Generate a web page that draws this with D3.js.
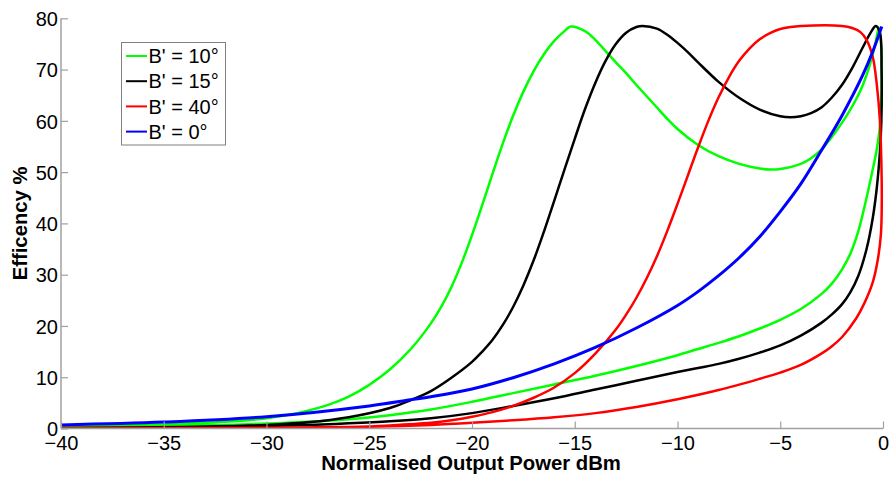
<!DOCTYPE html>
<html><head><meta charset="utf-8">
<script src="https://cdn.jsdelivr.net/npm/d3@7"></script>
<style>body{margin:0;background:#fff}svg{display:block}text{font-family:"Liberation Sans",Arial,sans-serif}</style>
</head><body><svg id="c" width="893" height="479"></svg>
<script>
const xTicks = [-40,-35,-30,-25,-20,-15,-10,-5,0];
const yTicks = [0,10,20,30,40,50,60,70,80];
const seriesNames = ["B' = 10°","B' = 15°","B' = 40°","B' = 0°"];
const seriesColors = ["#00ff00","#000000","#ff0000","#0000ff"];

// B' = 10° : upper branch (rising), then lower branch (returning)
const powerB10 = [-40,-35,-32,-30,-28.5,-27,-26,-25,-24,-23,-22,-21.5,-21,-20.5,-20,-19.5,-19,-18.5,-18,-17.5,-17,-16.5,-16,-15.5,-15.2,-14.5,-14,-13.5,-13,-12.5,-12,-11.5,-11,-10.5,-10,-9,-8,-7,-6,-5.5,-5,-4,-3.5,-3,-2.5,-2,-1.5,-1,-0.6,-0.35,-0.2,-0.08,-0.07,-0.15,-0.3,-0.5,-0.8,-1.2,-1.6,-2,-2.5,-3,-4,-5,-6,-7,-8,-9,-10,-12,-14,-16,-18,-20,-22,-24,-26,-28,-32,-36,-40];
const effB10 = [0.4,0.8,1.3,2.0,3.0,4.6,6.2,8.5,11.5,15.4,20.5,23.7,27.6,32.3,37.7,43.6,49.7,55.6,61.0,65.7,69.7,73,75.6,77.5,78.4,77.5,75.8,73.6,71.4,69.3,67,64.8,62.6,60.4,58.4,55.3,53.1,51.6,50.7,50.5,50.6,51.6,52.7,54.4,56.8,59.6,62.8,66.8,71.5,75.5,78.2,74,66,59,54.5,50.5,45,38.5,34,31,28.2,26.2,23.3,21.2,19.5,18.0,16.7,15.5,14.3,12.2,10.3,8.6,6.9,5.2,3.7,2.6,1.8,1.3,0.7,0.4,0.2];

// B' = 15°
const powerB15 = [-40,-34,-30,-28,-26,-24,-23,-22,-21,-20,-19.5,-19,-18.5,-18,-17.5,-17,-16.5,-16,-15.5,-15,-14.5,-14,-13.5,-13,-12.5,-12,-11.7,-11,-10.5,-10,-9.5,-9,-8,-7,-6,-5,-4.5,-4,-3.5,-3,-2.5,-2,-1.5,-1,-0.6,-0.35,-0.15,-0.07,-0.08,-0.15,-0.3,-0.5,-0.8,-1.2,-1.6,-2,-2.5,-3,-4,-5,-6,-7,-8,-9,-10,-12,-14,-16,-18,-20,-22,-24,-26,-28,-32,-36,-40];
const effB15 = [0.1,0.3,0.7,1.2,2.2,4.0,5.5,7.3,9.9,13.0,15.0,17.3,20.2,23.7,27.9,32.8,38.4,44.4,50.5,56.5,62.3,67.4,71.7,75,77.2,78.3,78.5,78,76.8,75.2,73.4,71.4,67.6,64.5,62.2,60.9,60.7,60.9,61.5,62.6,64.5,67,70.3,74.2,77.2,78.5,77.2,70,60,54,47,41,35,29.8,26.5,24.2,22.2,20.6,18.1,16.2,14.8,13.6,12.6,11.8,11,9.3,7.6,5.9,4.4,3.0,2.0,1.4,1.0,0.7,0.35,0.2,0.1];

// B' = 40°
const powerB40 = [-40,-30,-26,-24,-22,-21,-20,-19,-18,-17,-16,-15,-14,-13,-12.5,-12,-11.5,-11,-10.5,-10,-9.5,-9,-8.5,-8,-7.5,-7,-6.5,-6,-5.5,-5,-4.5,-4,-2,-1.5,-1.1,-0.8,-0.5,-0.3,-0.15,-0.08,-0.06,-0.1,-0.25,-0.5,-0.9,-1.3,-2,-2.5,-3,-4,-5,-6,-8,-10,-12,-14,-16,-18,-20,-22,-25,-30,-40];
const effB40 = [0.05,0.1,0.3,0.6,1.1,1.6,2.3,3.2,4.4,6.0,8.0,10.8,14.6,19.3,22.2,25.5,29.3,33.6,38.5,43.8,49.3,54.8,60,64.6,68.5,71.7,74.1,75.9,77.1,77.9,78.3,78.5,78.5,78.1,77.3,75.8,72.5,67,60,52,44,38,33,28.5,24.5,21.5,17.8,16,14.6,12.4,10.9,9.7,7.5,5.7,4.2,3.0,2.2,1.6,1.1,0.7,0.35,0.15,0.03];

// B' = 0°
const powerB0 = [-40,-35,-30,-25,-23,-22,-20,-18,-16,-14,-12,-10,-9,-8,-7,-6,-5,-4,-3,-2,-1,-0.5,-0.06];
const effB0 = [0.7,1.25,2.3,4.4,5.6,6.2,7.7,9.9,12.6,15.8,19.6,24.0,26.7,29.8,33.3,37.4,42.3,47.7,54.2,61,68.8,73.5,78.4];

const seriesPower = [powerB10, powerB15, powerB40, powerB0];
const seriesEff = [effB10, effB15, effB40, effB0];

const svg = d3.select("#c");
const L = 61, R = 883, T = 18.3, B = 428.5;
const x = d3.scaleLinear().domain([-40,0]).range([L,R]);
const y = d3.scaleLinear().domain([0,80]).range([B,T]);

svg.append("defs").append("clipPath").attr("id","clip")
  .append("rect").attr("x",L).attr("y",T-4).attr("width",R-L+1.5).attr("height",B-T+4);

const line = d3.line().x(d=>x(d[0])).y(d=>y(d[1])).curve(d3.curveCatmullRom.alpha(0.5));

const g = svg.append("g").attr("clip-path","url(#clip)");
seriesPower.forEach((px,i)=>{
  const pts = px.map((v,j)=>[v, seriesEff[i][j]]);
  g.append("path").attr("d", line(pts)).attr("fill","none")
    .attr("stroke", seriesColors[i]).attr("stroke-width", i===3?3:2.5)
    .attr("stroke-linejoin","round");
});

// axes
const ax = svg.append("g").attr("transform",`translate(0,${B})`)
  .call(d3.axisBottom(x).tickValues(xTicks).tickSize(-7).tickFormat(d3.format("d")));
const ay = svg.append("g").attr("transform",`translate(${L},0)`)
  .call(d3.axisLeft(y).tickValues(yTicks).tickSize(-7).tickFormat(d3.format("d")));
[ax,ay].forEach(a=>{
  a.select(".domain").attr("stroke","#a0a0a0").attr("stroke-width",1.5);
  a.selectAll(".tick line").attr("stroke","#a0a0a0").attr("stroke-width",1.2);
  a.selectAll("text").attr("fill","#000").style("font-size","20px").style("font-family","Liberation Sans, Arial, sans-serif");
});
ax.selectAll(".tick text").attr("dy","0").attr("y",21);
ay.selectAll(".tick text").attr("x",-3).attr("dy","0.36em");
ax.select(".domain").attr("d",`M${L},0H${R}`);
ay.select(".domain").attr("d",`M0,${B}V${T}`);

svg.append("text").attr("x",471).attr("y",470).attr("text-anchor","middle")
  .style("font-size","20.3px").style("font-weight","bold").text("Normalised Output Power dBm");
svg.append("text").attr("transform",`translate(27,${(T+B)/2}) rotate(-90)`).attr("text-anchor","middle")
  .style("font-size","20.3px").style("font-weight","bold").text("Efficency %");

// legend
const lg = svg.append("g");
lg.append("rect").attr("x",121.5).attr("y",42.5).attr("width",104).attr("height",102.5)
  .attr("fill","#fff").attr("stroke","#808080").attr("stroke-width",1);
seriesNames.forEach((n,i)=>{
  const cy = 56 + i*25.2;
  lg.append("line").attr("x1",126).attr("x2",147).attr("y1",cy).attr("y2",cy)
    .attr("stroke",seriesColors[i]).attr("stroke-width",2);
  lg.append("text").attr("x",148.5).attr("y",cy).attr("dy","0.36em")
    .style("font-size","20px").text(n);
});
</script></body></html>
